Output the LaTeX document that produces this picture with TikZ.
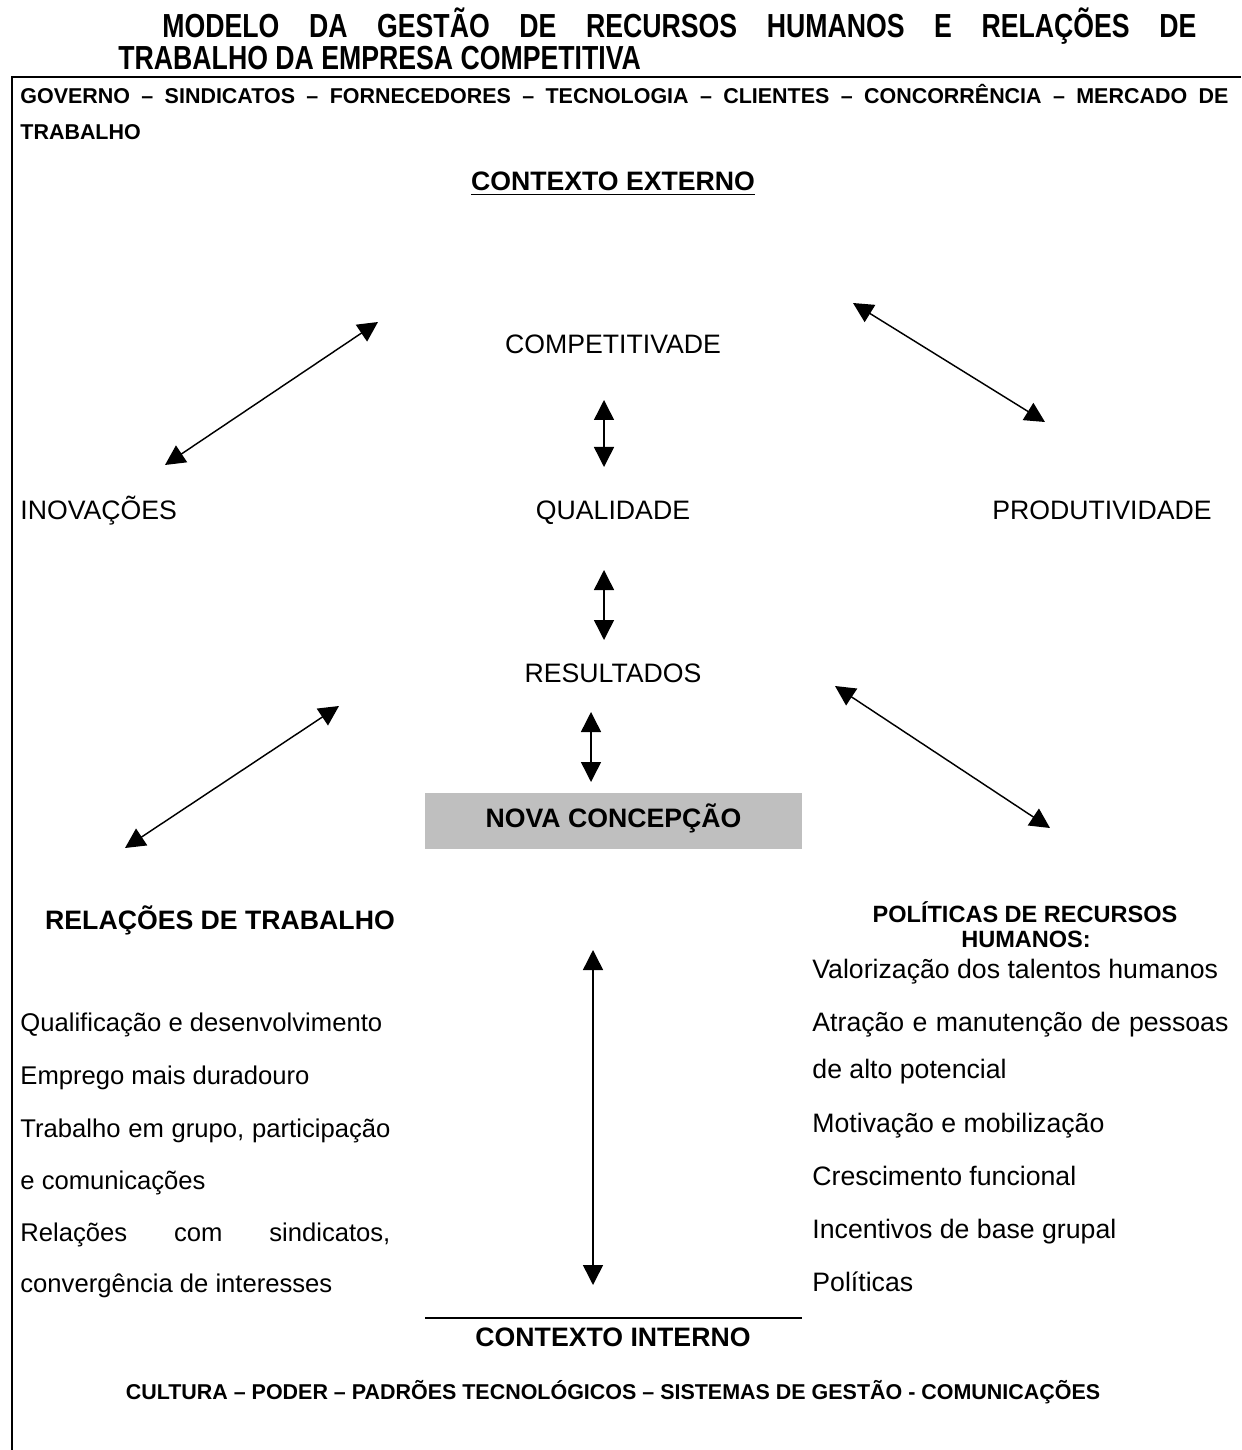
\documentclass[tikz,border=0pt]{standalone}
\usepackage{fontspec}
\setmainfont{Liberation Sans}
\newfontfamily\titlefont[FakeStretch=0.8]{Liberation Sans}
\usetikzlibrary{arrows.meta}
\newlength\px \setlength\px{0.48pt}
\tikzset{
  dbl/.style={{Triangle[length=9.6pt,width=9.6pt]}-{Triangle[length=9.6pt,width=9.6pt]}, line width=0.7pt},
  txt/.style={inner sep=0pt, font=\fontsize{12.8}{15}\selectfont},
  ltxt/.style={inner sep=0pt, font=\fontsize{12.3}{15}\selectfont},
  btxt/.style={inner sep=0pt, font=\fontsize{12.8}{15}\selectfont\bfseries},
  stxt/.style={inner sep=0pt, font=\fontsize{10.3}{12}\selectfont\bfseries},
  ptxt/.style={inner sep=0pt, font=\fontsize{11.3}{13}\selectfont\bfseries},
  ttl/.style={inner sep=0pt, font=\titlefont\bfseries\fontsize{16}{18}\selectfont},
  frame/.style={line width=1pt},
}
\begin{document}
\begin{tikzpicture}[x=0.48pt,y=-0.48pt]
\useasboundingbox (0,0) rectangle (1241,1450);
% title
\node[ttl, anchor=base west] (t1) at (162,38) {\makebox[1034\px][s]{MODELO DA GESTÃO DE RECURSOS HUMANOS E RELAÇÕES DE}};
\node[ttl, anchor=base west] (t2) at (118,70) {TRABALHO DA EMPRESA COMPETITIVA};
% frame
\draw[frame] (12,1450) -- (12,77) -- (1241,77);
% external context
\node[stxt, anchor=base west] (gov) at (20,104) {\makebox[1208\px][s]{GOVERNO – SINDICATOS – FORNECEDORES – TECNOLOGIA – CLIENTES – CONCORRÊNCIA – MERCADO DE}};
\node[stxt, anchor=base west] (gov2) at (20,140) {TRABALHO};
\node[btxt, anchor=base] (cext) at (613,191) {\underline{CONTEXTO EXTERNO}};
% central column
\node[txt, anchor=base] (comp) at (613,354) {COMPETITIVADE};
\node[txt, anchor=base west] (inov) at (20,519) {INOVAÇÕES};
\node[txt, anchor=base] (qual) at (613,519) {QUALIDADE};
\node[txt, anchor=base east] (prod) at (1212,519) {PRODUTIVIDADE};
\node[txt, anchor=base] (res) at (613,682) {RESULTADOS};
\node[btxt, fill=black!25, minimum width=377\px, minimum height=56\px, text height=9pt, text depth=2.6pt] (nova) at (613.5,821) {NOVA CONCEPÇÃO};
% left block
\node[btxt, anchor=base] (rel) at (220,929) {RELAÇÕES DE TRABALHO};
\node[ltxt, anchor=base west] (l1) at (20,1031) {Qualificação e desenvolvimento};
\node[ltxt, anchor=base west] (l2) at (20,1084) {Emprego mais duradouro};
\node[ltxt, anchor=base west] (l3) at (20,1137) {\makebox[370\px][s]{Trabalho em grupo, participação}};
\node[ltxt, anchor=base west] (l4) at (20,1189) {e comunicações};
\node[ltxt, anchor=base west] (l5) at (20,1241) {\makebox[370\px][s]{Relações com sindicatos,}};
\node[ltxt, anchor=base west] (l6) at (20,1292) {convergência de interesses};
% right block
\node[ptxt, anchor=base] (pol1) at (1025,922) {POLÍTICAS DE RECURSOS};
\node[ptxt, anchor=base] (pol2) at (1026,947) {HUMANOS:};
\node[txt, anchor=base west] (r1) at (812,978) {Valorização dos talentos humanos};
\node[txt, anchor=base west] (r2) at (812,1031) {\makebox[416\px][s]{Atração e manutenção de pessoas}};
\node[txt, anchor=base west] (r3) at (812,1078) {de alto potencial};
\node[txt, anchor=base west] (r4) at (812,1132) {Motivação e mobilização};
\node[txt, anchor=base west] (r5) at (812,1185) {Crescimento funcional};
\node[txt, anchor=base west] (r6) at (812,1238) {Incentivos de base grupal};
\node[txt, anchor=base west] (r7) at (812,1291) {Políticas};
% internal context
\coordinate (ruleL) at (425,1318);
\coordinate (ruleR) at (802,1318);
\draw[line width=0.7pt] (ruleL) -- (ruleR);
\node[btxt, anchor=base] (cint) at (613,1346) {CONTEXTO INTERNO};
\node[stxt, anchor=base] (cult) at (613,1399) {CULTURA – PODER – PADRÕES TECNOLÓGICOS – SISTEMAS DE GESTÃO - COMUNICAÇÕES};
% arrow end points
\coordinate (a1s) at (165,465); \coordinate (a1e) at (378,322);
\coordinate (a2s) at (853,303); \coordinate (a2e) at (1045,422);
\coordinate (v1s) at (604,400); \coordinate (v1e) at (604,467);
\coordinate (v2s) at (604,570); \coordinate (v2e) at (604,640);
\coordinate (v3s) at (591,712); \coordinate (v3e) at (591,782);
\coordinate (a3s) at (125,848); \coordinate (a3e) at (339,706);
\coordinate (a4s) at (835,686); \coordinate (a4e) at (1050,828);
\coordinate (v4s) at (593,950); \coordinate (v4e) at (593,1285);
\draw[dbl] (a1s) -- (a1e);
\draw[dbl] (a2s) -- (a2e);
\draw[dbl] (v1s) -- (v1e);
\draw[dbl] (v2s) -- (v2e);
\draw[dbl] (v3s) -- (v3e);
\draw[dbl] (a3s) -- (a3e);
\draw[dbl] (a4s) -- (a4e);
\draw[dbl] (v4s) -- (v4e);
\end{tikzpicture}
\end{document}
